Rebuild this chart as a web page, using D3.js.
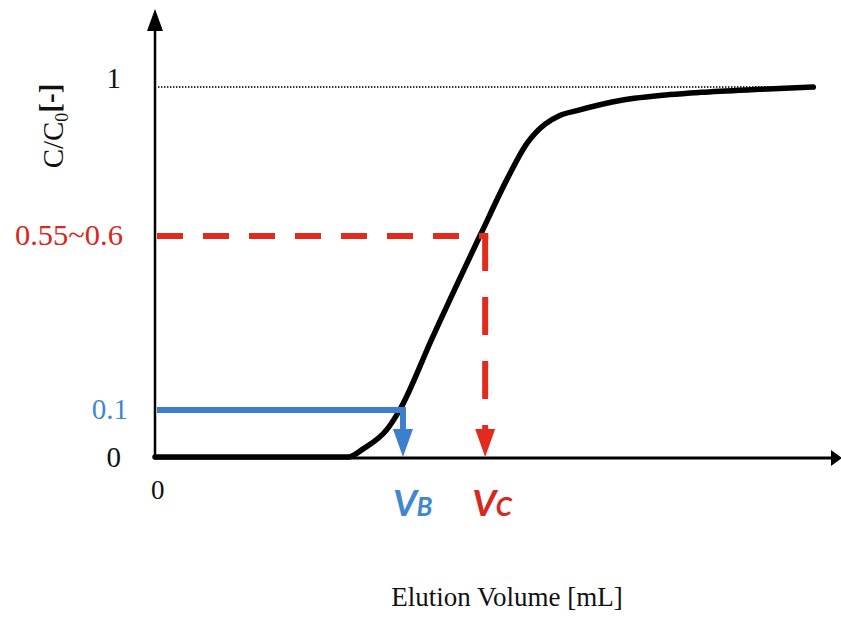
<!DOCTYPE html>
<html>
<head>
<meta charset="utf-8">
<script src="https://cdn.jsdelivr.net/npm/d3@7"></script>
<style>
  html, body { margin: 0; padding: 0; background: #fff; }
  svg { display: block; }
</style>
</head>
<body>
<svg id="chart" width="841" height="619"></svg>
<script>
// Breakthrough curve: relative outlet concentration C/C0 against elution volume
const elutionVolume = [0, 28.2, 30.4, 33.9, 35.8, 40.4, 47.7, 51.4, 54.3, 56.9, 59.1, 61.6, 67.9, 75.2, 79.6, 88.3, 96.1];
const relativeConc  = [0, 0, 0.017, 0.058, 0.1, 0.301, 0.608, 0.75, 0.846, 0.897, 0.921, 0.934, 0.961, 0.977, 0.983, 0.991, 0.997];

// Breakthrough (B) and critical (C) points
const markerNames   = ["B", "C"];
const markerLevels  = [0.1, 0.6];
const markerLabels  = ["0.1", "0.55~0.6"];
const markerVolumes = [36.2, 48.2];
const markerColors  = ["#3d7fcc", "#e22b1c"];
const markerText    = ["#3f88cf", "#d8271b"];

// Plain axis ticks
const yTickValues = [0, 1];
const xTickValues = [0];
const saturationLevel = 1;

const xTitle = "Elution Volume [mL]";

const svg = d3.select("#chart");

const x = d3.scaleLinear().domain([0, 100]).range([155, 840]);
// schematic concentration scale, stretched around the marked levels
const y = d3.scaleLinear().domain([0, 0.1, 0.6, 1]).range([458, 410, 236, 87]);

const serif = "'Liberation Serif', 'DejaVu Serif', serif";

// saturation reference (C/C0 = 1)
svg.append("line")
  .attr("x1", x(0) + 3).attr("x2", x(96.1))
  .attr("y1", y(saturationLevel)).attr("y2", y(saturationLevel))
  .attr("stroke", "#333").attr("stroke-width", 2)
  .attr("stroke-dasharray", "1.4 1.6");

// breakthrough curve
const pts = elutionVolume.map((v, i) => [v, relativeConc[i]]);
svg.append("path")
  .datum(pts)
  .attr("fill", "none")
  .attr("stroke", "#000")
  .attr("stroke-width", 5.5)
  .attr("stroke-linejoin", "round")
  .attr("stroke-linecap", "round")
  .attr("d", d3.line().x(d => x(d[0])).y(d => y(d[1]) - 1).curve(d3.curveMonotoneX));

// axes lines with arrowheads
const x0 = x(0), y0 = y(0);
svg.append("line").attr("x1", x0).attr("x2", x0).attr("y1", y0 + 1).attr("y2", 28)
  .attr("stroke", "#000").attr("stroke-width", 2.5);
svg.append("path").attr("d", `M${x0},9 L${x0 - 8},31 L${x0 + 8},31 Z`).attr("fill", "#000");
svg.append("line").attr("x1", x0 - 1).attr("x2", 833).attr("y1", y0).attr("y2", y0)
  .attr("stroke", "#000").attr("stroke-width", 3);
svg.append("path").attr("d", `M842,${y0} L831,${y0 - 8} L831,${y0 + 8} Z`).attr("fill", "#000");

// tick labels through d3 axes
const yAxis = svg.append("g")
  .attr("transform", `translate(${x0},0)`)
  .call(d3.axisLeft(y).tickValues(yTickValues).tickSize(0).tickPadding(34).tickFormat(d3.format("d")));
yAxis.select(".domain").remove();
yAxis.selectAll("text")
  .attr("font-family", serif).attr("font-size", 29).attr("fill", "#111")
  .attr("dy", d => d === 1 ? "0.0em" : "0.3em");

const xAxis = svg.append("g")
  .attr("transform", `translate(0,${y0})`)
  .call(d3.axisBottom(x).tickValues(xTickValues).tickSize(0).tickPadding(22).tickFormat(d3.format("d")));
xAxis.select(".domain").remove();
xAxis.selectAll("text")
  .attr("font-family", serif).attr("font-size", 27).attr("fill", "#111")
  .attr("dx", "0.08em");

// marker guides
markerNames.forEach((name, i) => {
  const lvl = y(markerLevels[i]);
  const vx = x(markerVolumes[i]);
  const col = markerColors[i];
  const dashed = i === 1;
  const tipY = y0 - 1;
  const baseY = tipY - 28;

  svg.append("line")
    .attr("x1", x0 + 2).attr("x2", vx + 3)
    .attr("y1", lvl).attr("y2", lvl)
    .attr("stroke", col).attr("stroke-width", 6)
    .attr("stroke-dasharray", dashed ? "26 20" : null);

  svg.append("line")
    .attr("x1", vx).attr("x2", vx)
    .attr("y1", lvl - 3).attr("y2", baseY + 2)
    .attr("stroke", col).attr("stroke-width", 6)
    .attr("stroke-dasharray", dashed ? "38 26" : null);

  svg.append("path")
    .attr("d", `M${vx},${tipY} L${vx - 10},${baseY} L${vx + 10},${baseY} Z`)
    .attr("fill", col);

  // level label on the y axis
  const lab = svg.append("text")
    .attr("x", dashed ? 123 : 128).attr("y", lvl)
    .attr("dy", "0.3em")
    .attr("text-anchor", "end")
    .attr("font-family", serif).attr("font-size", 29)
    .attr("fill", markerText[i])
    .text(markerLabels[i]);
  if (dashed) lab.attr("textLength", 108).attr("lengthAdjust", "spacingAndGlyphs");

  // V_B / V_C label under the axis
  const vt = svg.append("text")
    .attr("x", vx - (dashed ? 13 : 10)).attr("y", 516)
    .attr("font-family", "Lato, 'Open Sans', sans-serif")
    .attr("font-style", "italic").attr("font-weight", 700)
    .attr("fill", markerText[i]);
  vt.append("tspan").attr("font-size", 37).text("V");
  vt.append("tspan").attr("font-size", 26).attr("dx", "-0.02em").text(name);
});

// axis titles
const yt = svg.append("text")
  .attr("transform", "translate(63,126) rotate(-90)")
  .attr("text-anchor", "middle")
  .attr("font-family", serif).attr("font-size", 29).attr("fill", "#111");
yt.append("tspan").text("C/C");
yt.append("tspan").attr("font-size", 18).attr("dy", "0.3em").text("0");
yt.append("tspan").attr("dy", "-0.3em").attr("font-weight", 700).text("[-]");

svg.append("text")
  .attr("x", 507).attr("y", 606)
  .attr("text-anchor", "middle")
  .attr("font-family", serif).attr("font-size", 27).attr("fill", "#111")
  .text(xTitle);
</script>
</body>
</html>
